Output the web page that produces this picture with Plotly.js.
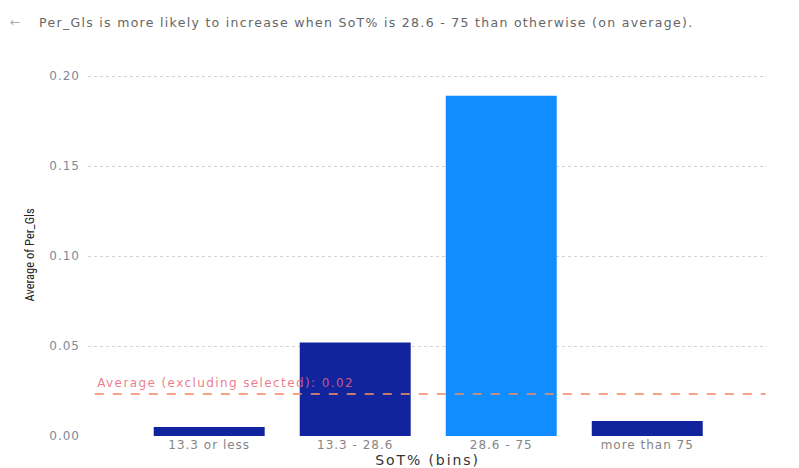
<!DOCTYPE html>
<html>
<head>
<meta charset="utf-8">
<script src="https://cdn.plot.ly/plotly-3.0.1.min.js"></script>
<style>
html,body{margin:0;padding:0;background:#fff;}
#chart{width:799px;height:468px;}
#chart g.xtick text{letter-spacing:1px;}
#chart g.ytick text{letter-spacing:1px;}
#chart g.g-xtitle text{letter-spacing:1.9px;}
#chart g.annotation[data-index="0"] text{letter-spacing:1.4px;}
#chart g.annotation[data-index="3"] text{letter-spacing:1.3px;}
</style>
</head>
<body>
<div id="chart"></div>
<script>
const categories = ["13.3 or less", "13.3 - 28.6", "28.6 - 75", "more than 75"];
const values = [0.005, 0.052, 0.189, 0.0083];
const selectedCategory = "28.6 - 75";
const averageExcludingSelected = 0.0233;
const averageLabel = "Average (excluding selected): 0.02";
const titleText = "Per_Gls is more likely to increase when SoT% is 28.6 - 75 than otherwise (on average).";
const yTickVals = [0, 0.05, 0.10, 0.15, 0.20];
const yTickText = ["0.00", "0.05", "0.10", "0.15", "0.20"];

const barColors = categories.map(c => c === selectedCategory ? "#118DFF" : "#12239E");

const data = [{
  type: "bar",
  x: categories,
  y: values,
  marker: {color: barColors, line: {width: 0}},
  hoverinfo: "x+y"
}];

const font = "'DejaVu Sans', Verdana, sans-serif";

const layout = {
  width: 799, height: 468,
  margin: {l: 88, r: 32, t: 60, b: 32},
  paper_bgcolor: "#ffffff", plot_bgcolor: "#ffffff",
  showlegend: false,
  bargap: 0.24,
  font: {family: font, color: "#777"},
  xaxis: {
    type: "category",
    range: [-0.83, 3.82],
    showgrid: false, zeroline: false, showline: false,
    ticks: "", tickfont: {size: 12, color: "#858585", family: font},
    ticklabelstandoff: 0,
    title: {text: "SoT% (bins)", font: {size: 14, color: "#333", family: font}, standoff: 1}
  },
  yaxis: {
    range: [0, 0.2089],
    tickvals: yTickVals, ticktext: yTickText,
    tickfont: {size: 12, color: "#7d8a9b", family: font},
    showgrid: true, gridcolor: "#d2d2d2", griddash: "dot", gridwidth: 1,
    zeroline: false, showline: false, ticks: "",
    ticklabelstandoff: 7
  },
  shapes: [{
    type: "line", xref: "paper", yref: "y",
    x0: 0.01, x1: 0.998,
    y0: averageExcludingSelected, y1: averageExcludingSelected,
    line: {color: "rgba(242,140,100,0.8)", width: 2, dash: "dash"},
    layer: "above"
  }],
  annotations: [
    {text: averageLabel, xref: "paper", yref: "y", x: 0, xshift: 31, y: averageExcludingSelected,
     xanchor: "left", yanchor: "bottom", yshift: 2, showarrow: false,
     font: {size: 12, color: "rgba(232,100,120,0.85)", family: font}},
    {text: "Average of Per_Gls", xref: "paper", yref: "paper", x: 0, xshift: -58, y: 0.48,
     textangle: -90, showarrow: false, xanchor: "center", yanchor: "middle",
     font: {size: 12.5, color: "#222", family: "'Roboto Condensed', 'DejaVu Sans Condensed', Roboto, sans-serif"}},
    {text: "←", xref: "paper", yref: "paper", x: 0, xshift: -80, y: 1, yshift: 38,
     showarrow: false, xanchor: "left", yanchor: "middle",
     font: {size: 12, color: "#aaa", family: font}},
    {text: titleText, xref: "paper", yref: "paper", x: 0, xshift: 5, y: 1, yshift: 38,
     showarrow: false, xanchor: "left", yanchor: "middle",
     font: {size: 12.5, color: "#666", family: font}}
  ]
};

Plotly.newPlot("chart", data, layout, {displayModeBar: false, staticPlot: true});
</script>
</body>
</html>
